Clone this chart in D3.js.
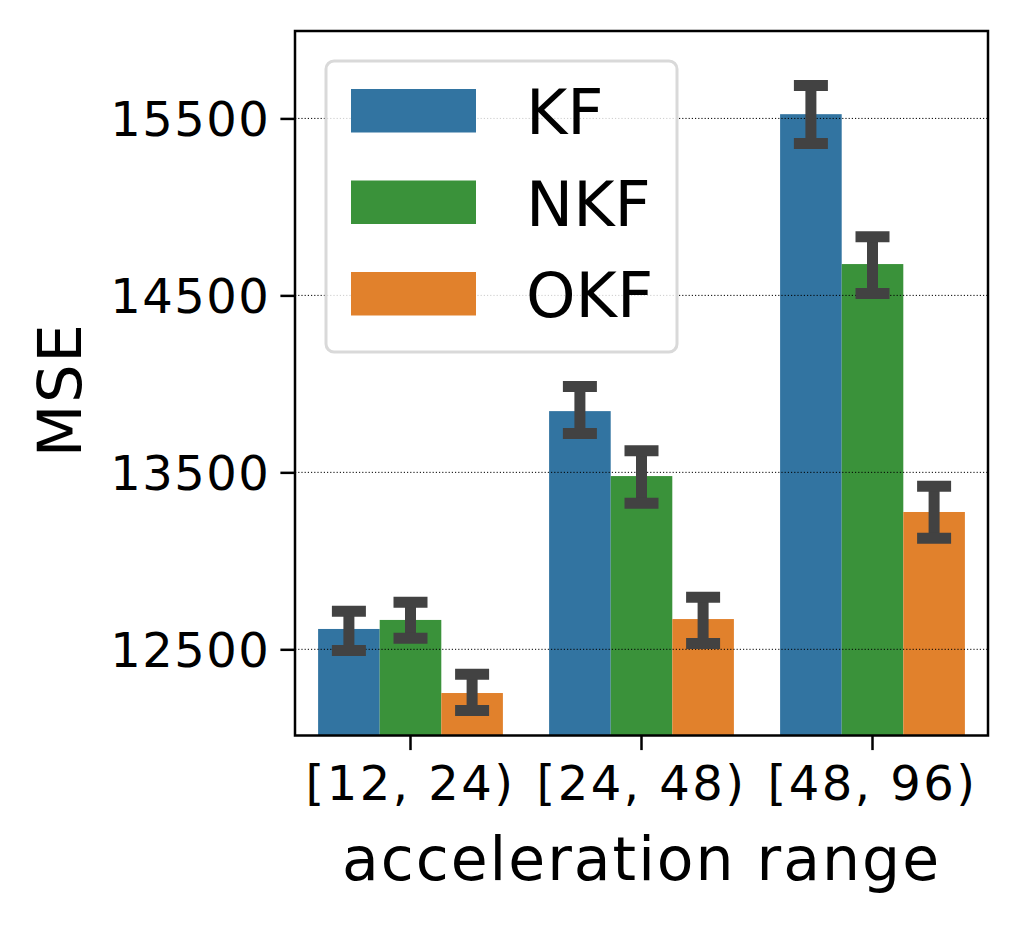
<!DOCTYPE html>
<html>
<head>
<meta charset="utf-8">
<script src="https://d3js.org/d3.v7.min.js"></script>
<style>
  body { margin: 0; background: #fff; }
  text { font-family: "DejaVu Sans", sans-serif; fill: #000; }
</style>
</head>
<body>
<div class="chart"></div>
<script>
// Data
var ranges = ["[12, 24)", "[24, 48)", "[48, 96)"];
var methods = ["KF", "NKF", "OKF"];
var kfMean = [12615, 13846, 15524];
var kfLow  = [12493, 13719, 15358];
var kfHigh = [12715, 13985, 15686];
var nkfMean = [12666, 13479, 14677];
var nkfLow  = [12563, 13325, 14510];
var nkfHigh = [12766, 13622, 14832];
var okfMean = [12253, 12671, 13276];
var okfLow  = [12154, 12533, 13127];
var okfHigh = [12359, 12794, 13421];
var yTicks = [12500, 13500, 14500, 15500];

var colors = {"KF": "#3274a1", "NKF": "#3a923a", "OKF": "#e1812c"};

var rows = [];
ranges.forEach(function(r, i) {
  rows.push({range: r, method: "KF", mean: kfMean[i], lo: kfLow[i], hi: kfHigh[i]});
  rows.push({range: r, method: "NKF", mean: nkfMean[i], lo: nkfLow[i], hi: nkfHigh[i]});
  rows.push({range: r, method: "OKF", mean: okfMean[i], lo: okfLow[i], hi: okfHigh[i]});
});

// Set Parms
var svgWidth = 1018;
var svgHeight = 925;
var plotLeft = 295, plotRight = 988, plotTop = 31, plotBottom = 735.5;

var svg = d3.select(".chart")
  .append("svg")
  .attr("width", svgWidth)
  .attr("height", svgHeight);

// scales
var x = d3.scaleBand()
  .domain(ranges)
  .range([plotLeft, plotRight])
  .padding(0);

var xInner = d3.scaleBand()
  .domain(methods)
  .range([x.bandwidth() * 0.1, x.bandwidth() * 0.9]);

var y = d3.scaleLinear()
  .domain([12013, 15994])
  .range([plotBottom, plotTop]);

// bars
svg.append("g")
  .selectAll("rect")
  .data(rows)
  .enter()
  .append("rect")
    .attr("x", function(d) { return x(d.range) + xInner(d.method); })
    .attr("width", xInner.bandwidth())
    .attr("y", function(d) { return y(d.mean); })
    .attr("height", function(d) { return plotBottom - y(d.mean); })
    .attr("fill", function(d) { return colors[d.method]; });

// grid (drawn over bars)
svg.append("g")
  .selectAll("line")
  .data(yTicks)
  .enter()
  .append("line")
    .attr("x1", plotLeft)
    .attr("x2", plotRight)
    .attr("y1", function(d) { return y(d); })
    .attr("y2", function(d) { return y(d); })
    .attr("stroke", "#000")
    .attr("stroke-width", 1)
    .attr("stroke-dasharray", "1.2,2");

// error bars
var err = svg.append("g")
  .selectAll("g")
  .data(rows)
  .enter()
  .append("g")
  .attr("stroke", "#424242")
  .attr("stroke-width", 11);

function cx(d) { return x(d.range) + xInner(d.method) + xInner.bandwidth() / 2; }

err.append("line")
  .attr("x1", cx).attr("x2", cx)
  .attr("y1", function(d) { return y(d.lo); })
  .attr("y2", function(d) { return y(d.hi); });
err.append("line")
  .attr("x1", function(d) { return cx(d) - 17; })
  .attr("x2", function(d) { return cx(d) + 17; })
  .attr("y1", function(d) { return y(d.hi); })
  .attr("y2", function(d) { return y(d.hi); });
err.append("line")
  .attr("x1", function(d) { return cx(d) - 17; })
  .attr("x2", function(d) { return cx(d) + 17; })
  .attr("y1", function(d) { return y(d.lo); })
  .attr("y2", function(d) { return y(d.lo); });

// axes
var yAxis = svg.append("g")
  .attr("transform", "translate(" + plotLeft + ",0)")
  .call(d3.axisLeft(y).tickValues(yTicks).tickSize(14.6).tickPadding(10).tickFormat(d3.format("d")));

var xAxis = svg.append("g")
  .attr("transform", "translate(0," + plotBottom + ")")
  .call(d3.axisBottom(x).tickSize(14.6).tickPadding(12));

[yAxis, xAxis].forEach(function(a) {
  a.select(".domain").remove();
  a.selectAll(".tick line").attr("stroke", "#000").attr("stroke-width", 2.5);
  a.selectAll(".tick text")
    .style("font-family", "DejaVu Sans")
    .style("font-size", "48px")
    .style("letter-spacing", "1.5px")
    .attr("fill", "#000");
});
yAxis.selectAll(".tick text").attr("dy", "0.36em");
xAxis.selectAll(".tick text")
  .attr("dy", "0.78em")
  .style("letter-spacing", "2.5px");

// frame
svg.append("rect")
  .attr("x", plotLeft)
  .attr("y", plotTop)
  .attr("width", plotRight - plotLeft)
  .attr("height", plotBottom - plotTop)
  .attr("fill", "none")
  .attr("stroke", "#000")
  .attr("stroke-width", 2.5);

// labels
svg.append("text")
  .attr("x", (plotLeft + plotRight) / 2)
  .attr("y", 880)
  .attr("text-anchor", "middle")
  .style("font-size", "60px")
  .style("letter-spacing", "2px")
  .text("acceleration range");

svg.append("text")
  .attr("transform", "translate(81,390) rotate(-90)")
  .attr("text-anchor", "middle")
  .style("font-size", "61px")
  .style("letter-spacing", "1.5px")
  .text("MSE");

// legend
var legend = svg.append("g");
legend.append("rect")
  .attr("x", 326)
  .attr("y", 61)
  .attr("width", 351)
  .attr("height", 291)
  .attr("rx", 8)
  .attr("fill", "#fff")
  .attr("fill-opacity", 0.8)
  .attr("stroke", "#d9d9d9")
  .attr("stroke-width", 3);

var items = legend.selectAll(".item")
  .data(methods)
  .enter()
  .append("g")
  .attr("class", "item")
  .attr("transform", function(d, i) { return "translate(0," + (i * 91.5) + ")"; });

items.append("rect")
  .attr("x", 351)
  .attr("y", 89)
  .attr("width", 125)
  .attr("height", 43.5)
  .attr("fill", function(d) { return colors[d]; });

items.append("text")
  .attr("x", 526)
  .attr("y", 134)
  .style("font-size", "63px")
  .text(function(d) { return d; });
</script>
</body>
</html>
